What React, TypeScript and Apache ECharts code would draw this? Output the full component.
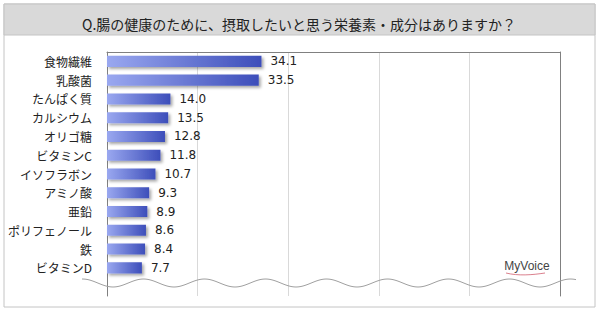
import React, { useEffect, useRef } from "react";
import * as echarts from "echarts";

const categories = [
  "食物繊維",
  "乳酸菌",
  "たんぱく質",
  "カルシウム",
  "オリゴ糖",
  "ビタミンC",
  "イソフラボン",
  "アミノ酸",
  "亜鉛",
  "ポリフェノール",
  "鉄",
  "ビタミンD",
  "",
];
const values: (number | null)[] = [34.1, 33.5, 14.0, 13.5, 12.8, 11.8, 10.7, 9.3, 8.9, 8.6, 8.4, 7.7, null];
const xMin = 0;
const xMax = 100;
const xInterval = 20;
const title = "Q.腸の健康のために、摂取したいと思う栄養素・成分はありますか？";

function wavePoints(): number[][] {
  const pts: number[][] = [];
  const x0 = 82, x1 = 577, cy = 283, amp = 4, period = 61, trough = 113;
  for (let x = x0; x <= x1; x += 2) {
    pts.push([x, cy + amp * Math.cos((2 * Math.PI * (x - trough)) / period)]);
  }
  return pts;
}

export default function App() {
  const ref = useRef<HTMLDivElement>(null);
  useEffect(() => {
    if (!ref.current) return;
    const chart = echarts.init(ref.current, null, { renderer: "svg" });
    chart.setOption({
      animation: false,
      backgroundColor: "#ffffff",
      grid: { left: 107, right: 40, top: 52, bottom: 16, containLabel: false },
      xAxis: {
        type: "value",
        position: "top",
        min: xMin,
        max: xMax,
        interval: xInterval,
        axisLine: { show: true, lineStyle: { color: "#808080", width: 1 } },
        axisTick: { show: false },
        axisLabel: { show: false },
        splitLine: { show: true, lineStyle: { color: "#d9d9d9", width: 1 } },
      },
      yAxis: [
        {
          type: "category",
          data: categories,
          inverse: true,
          axisLine: { show: true, lineStyle: { color: "#808080", width: 1 } },
          axisTick: { show: false },
          axisLabel: {
            margin: 15,
            fontSize: 12,
            color: "#222222",
            fontFamily: "'Noto Sans CJK JP', sans-serif",
          },
        },
        {
          type: "category",
          data: categories,
          inverse: true,
          position: "right",
          axisLine: { show: true, lineStyle: { color: "#808080", width: 1 } },
          axisTick: { show: false },
          axisLabel: { show: false },
        },
      ],
      series: [
        {
          type: "bar",
          data: values,
          barCategoryGap: "41%",
          itemStyle: {
            color: new echarts.graphic.LinearGradient(0, 0, 1, 0, [
              { offset: 0, color: "#9aa8f0" },
              { offset: 1, color: "#3d4eba" },
            ]),
            shadowColor: "rgba(0,0,0,0.35)",
            shadowBlur: 3,
            shadowOffsetX: 2,
            shadowOffsetY: 2,
          },
          label: {
            show: true,
            position: "right",
            distance: 9,
            fontSize: 12,
            color: "#222222",
            fontFamily: "Verdana, 'DejaVu Sans', sans-serif",
            formatter: (p: any) => (p.value == null ? "" : Number(p.value).toFixed(1)),
          },
        },
      ],
      graphic: [
        {
          type: "rect",
          shape: { x: 4, y: 4, width: 591, height: 303 },
          style: { fill: "none", stroke: "#c4c4c4", lineWidth: 1 },
          silent: true,
        },
        {
          type: "rect",
          shape: { x: 4, y: 4, width: 591, height: 31 },
          style: { fill: "#d9d9d9", stroke: "#c4c4c4", lineWidth: 1 },
          silent: true,
        },
        {
          type: "text",
          x: 299,
          y: 24,
          style: {
            text: title,
            fontSize: 14,
            fill: "#222222",
            fontFamily: "'Noto Sans CJK JP', sans-serif",
            align: "center",
            verticalAlign: "middle",
          },
        },
        {
          type: "polyline",
          shape: { points: wavePoints() },
          style: { stroke: "#a0a0a0", lineWidth: 1, fill: "none" },
          silent: true,
          z: 10,
        },
        {
          type: "text",
          x: 527,
          y: 266,
          style: {
            text: "MyVoice",
            fontSize: 12,
            fill: "#444444",
            fontFamily: "'Liberation Sans', Arial, sans-serif",
            align: "center",
            verticalAlign: "middle",
          },
          z: 10,
        },
        {
          type: "bezierCurve",
          shape: { x1: 506, y1: 273, x2: 545, y2: 273, cpx1: 518, cpy1: 276, cpx2: 532, cpy2: 275 },
          style: { stroke: "#d06070", lineWidth: 0.8, fill: "none" },
          z: 10,
        },
      ],
    });
    return () => chart.dispose();
  }, []);
  return (
    <div
      ref={ref}
      style={{ position: "fixed", left: 0, top: 0, width: 600, height: 312 }}
    />
  );
}
